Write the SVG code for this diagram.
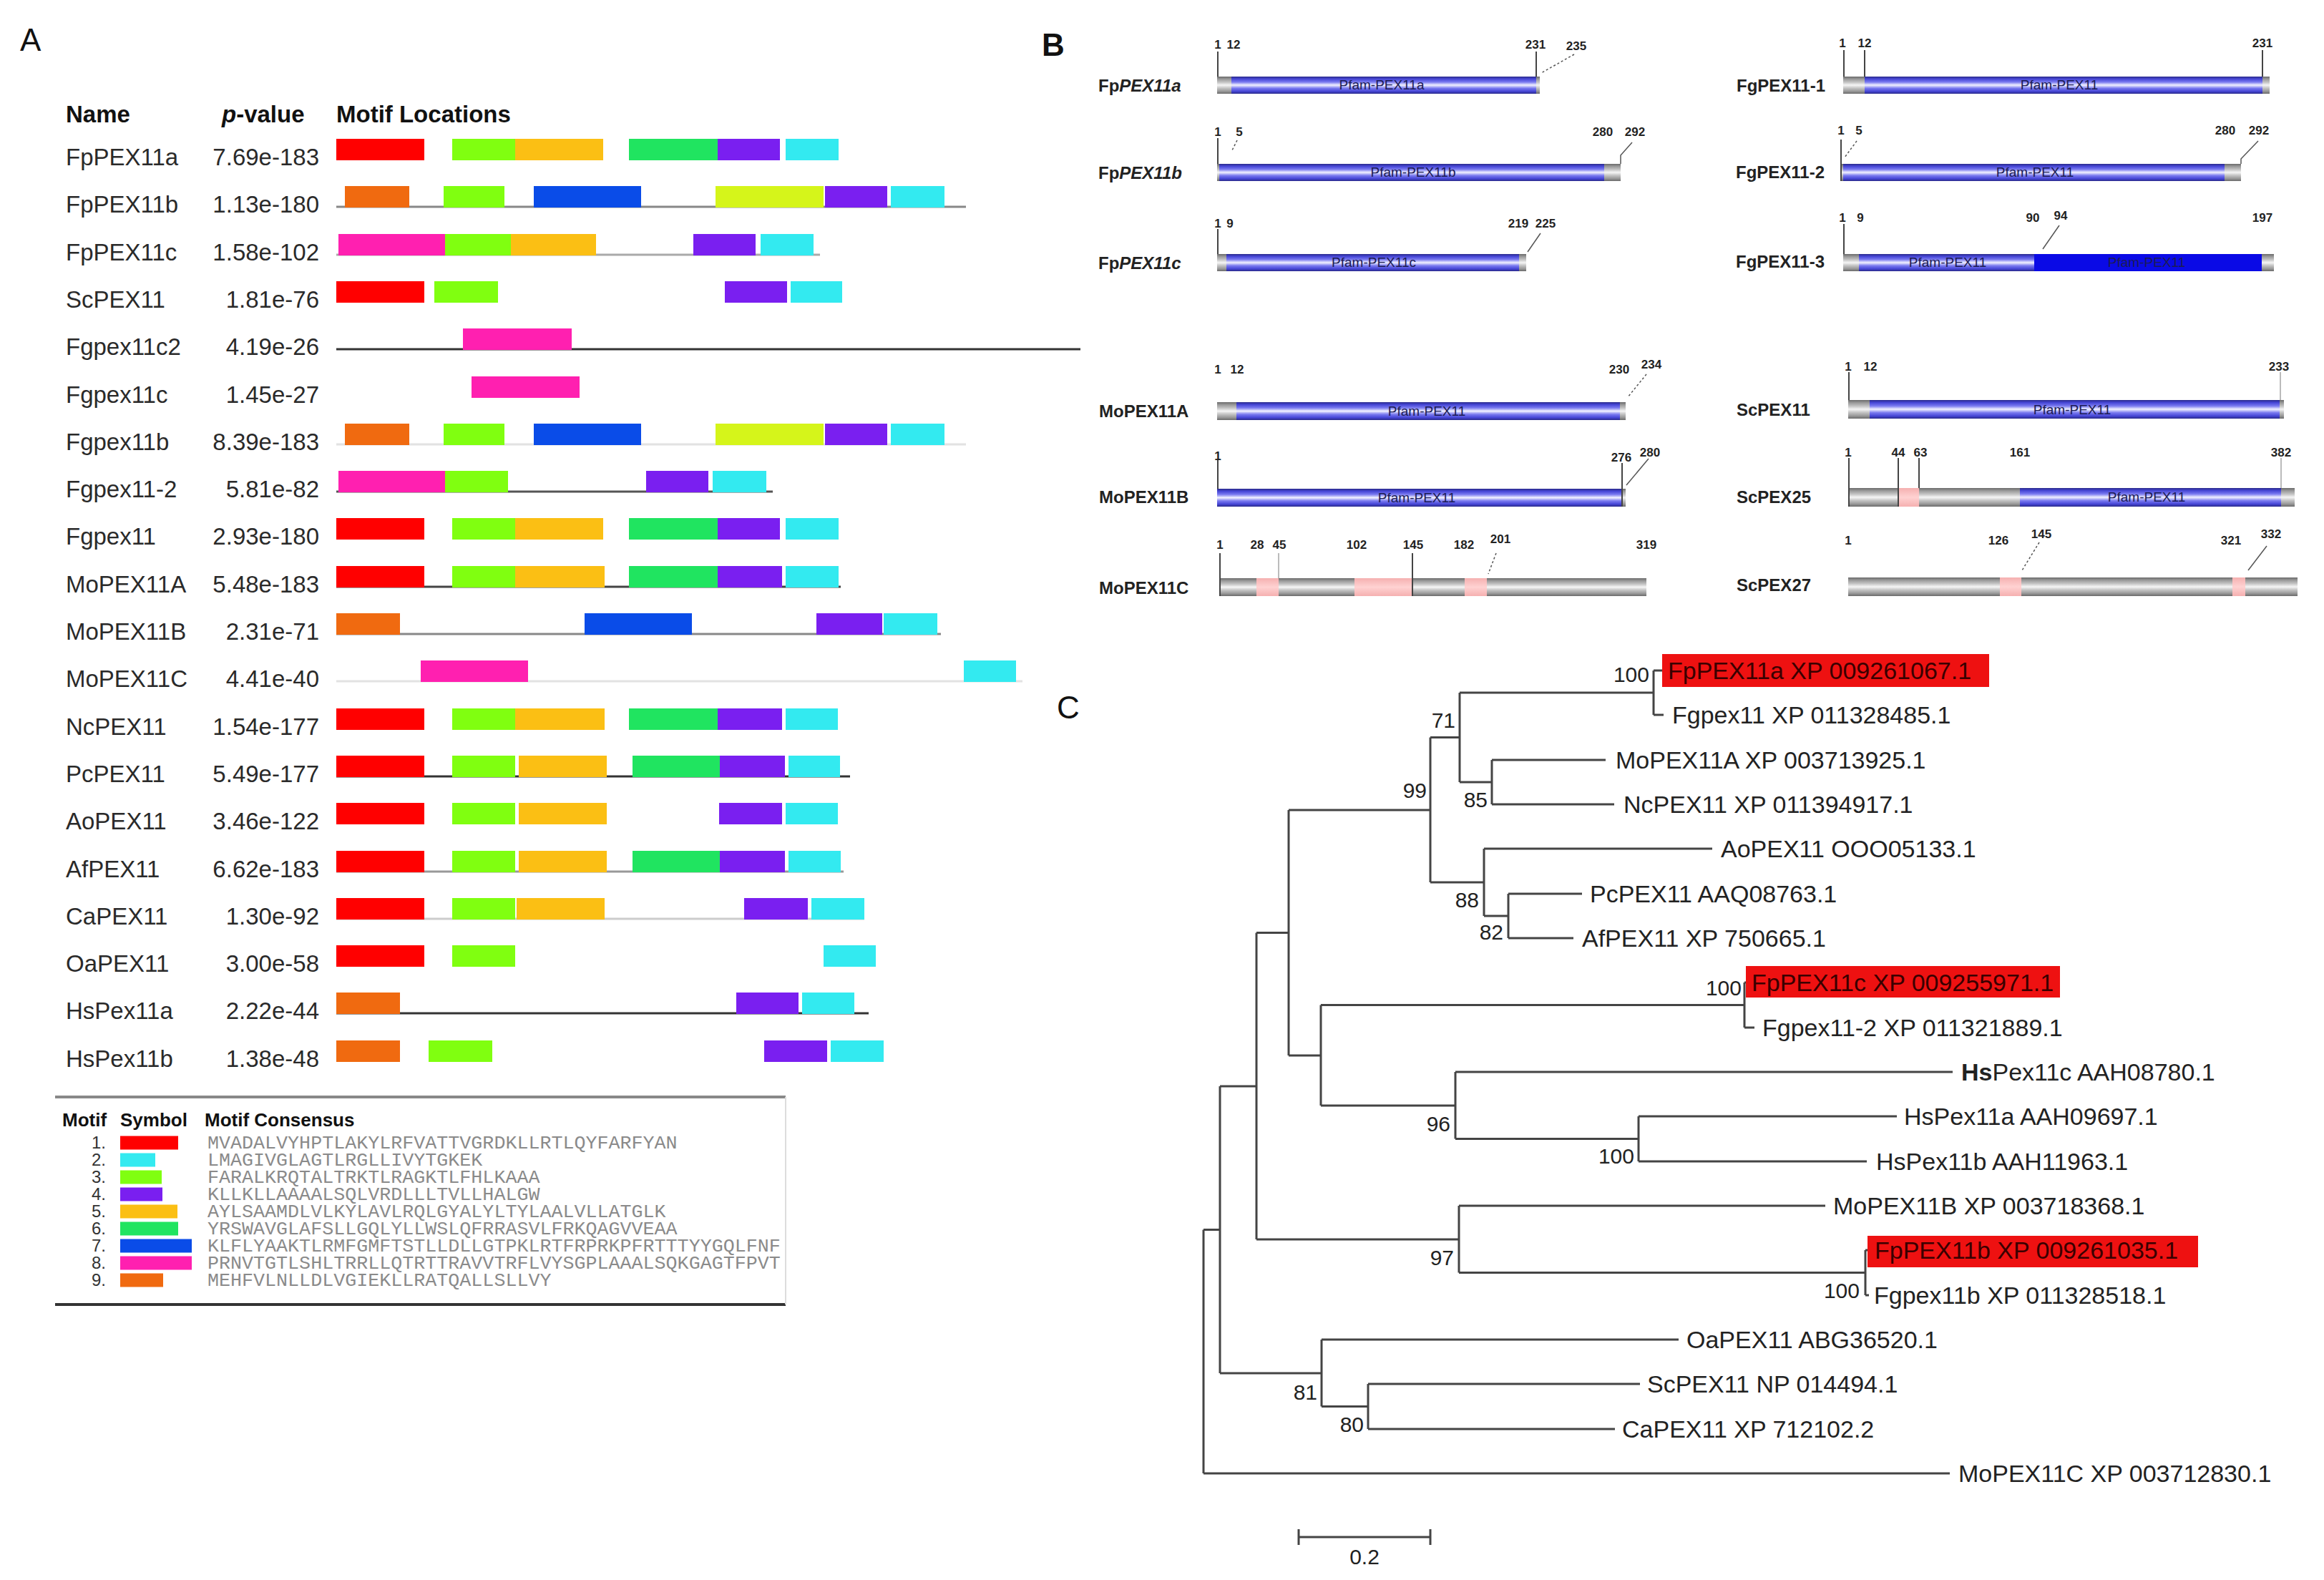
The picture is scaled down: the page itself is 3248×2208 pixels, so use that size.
<svg xmlns="http://www.w3.org/2000/svg" width="3248" height="2208" viewBox="0 0 3248 2208">
<defs>
<linearGradient id="gb" x1="0" y1="0" x2="0" y2="1">
<stop offset="0" stop-color="#2a2a8a"/><stop offset="0.14" stop-color="#4646d6"/><stop offset="0.32" stop-color="#7a7af0"/><stop offset="0.5" stop-color="#f2f2ff"/><stop offset="0.68" stop-color="#7a7af0"/><stop offset="0.86" stop-color="#4646d6"/><stop offset="1" stop-color="#2a2a8a"/>
</linearGradient>
<linearGradient id="gg" x1="0" y1="0" x2="0" y2="1">
<stop offset="0" stop-color="#6a6a6a"/><stop offset="0.15" stop-color="#9a9a9a"/><stop offset="0.33" stop-color="#c4c4c4"/><stop offset="0.5" stop-color="#f6f6f6"/><stop offset="0.67" stop-color="#c4c4c4"/><stop offset="0.85" stop-color="#9a9a9a"/><stop offset="1" stop-color="#6a6a6a"/>
</linearGradient>
<linearGradient id="gp" x1="0" y1="0" x2="0" y2="1">
<stop offset="0" stop-color="#f5b0b0"/><stop offset="0.5" stop-color="#ffd2d2"/><stop offset="1" stop-color="#f5b0b0"/>
</linearGradient>
</defs>
<style>
text{font-family:"Liberation Sans",Arial,sans-serif}
.pl{font-size:44px;fill:#111}
.nm{font-size:33px;fill:#2a2a2a}
.pv{font-size:33px;fill:#2a2a2a;text-anchor:end}
.hd{font-size:33px;font-weight:bold;fill:#111}
.m1{fill:#ff0000}.m2{fill:#33eaf0}.m3{fill:#80ff10}.m4{fill:#7a1ff0}.m5{fill:#fbbf14}.m6{fill:#20e460}.m7{fill:#0a4ce8}.m8{fill:#ff20b0}.m9{fill:#f06a10}.mY{fill:#d5f51a}
.bl{stroke-width:3}
.lg{font-size:26px;font-weight:bold;fill:#111}
.ln{font-size:24px;fill:#333;text-anchor:end}
.cs{font-family:"Liberation Mono","Courier New",monospace;font-size:26.7px;fill:#8a8a8a}
.bn{font-size:24px;font-weight:bold;fill:#222}
.bp{font-size:17px;font-weight:bold;fill:#222;text-anchor:middle}
.bi{font-size:19px;fill:#1c1c55;text-anchor:middle}
.tk{stroke:#444;stroke-width:2}
.tkl{stroke:#bbb;stroke-width:2}
.ld{stroke:#555;stroke-width:1.5;fill:none}
.dash{stroke-dasharray:3 3}
.tl{font-size:34px;fill:#222}
.th{font-size:34px;fill:#3a0000}
.bs{font-size:30px;fill:#222;text-anchor:end}
.tr{stroke:#444;stroke-width:3;fill:none}
.hl{fill:#ee1111}
</style>
<rect width="3248" height="2208" fill="#ffffff"/>

<!-- Panel A -->
<g id="panelA">
<text class="pl" x="28" y="71">A</text>
<text class="hd" x="92" y="171">Name</text>
<text class="hd" x="310" y="171"><tspan font-style="italic">p</tspan>-value</text>
<text class="hd" x="470" y="171">Motif Locations</text>

<g id="rowA0" transform="translate(0,194)">
<text class="nm" x="92" y="37">FpPEX11a</text><text class="pv" x="446" y="37">7.69e-183</text>
<rect class="m1" x="470" width="123" height="30"/><rect class="m3" x="632" width="88" height="30"/><rect class="m5" x="720" width="123" height="30"/><rect class="m6" x="879" width="124" height="30"/><rect class="m4" x="1003" width="87" height="30"/><rect class="m2" x="1098" width="74" height="30"/>
</g>
<g id="rowA1" transform="translate(0,260)">
<text class="nm" x="92" y="37">FpPEX11b</text><text class="pv" x="446" y="37">1.13e-180</text>
<line x1="470" x2="1350" y1="29" y2="29" stroke="#888" class="bl"/>
<rect class="m9" x="482" width="90" height="30"/><rect class="m3" x="620" width="85" height="30"/><rect class="m7" x="746" width="150" height="30"/><rect class="mY" x="1000" width="151" height="30"/><rect class="m4" x="1153" width="87" height="30"/><rect class="m2" x="1245" width="75" height="30"/>
</g>
<g id="rowA2" transform="translate(0,327)">
<text class="nm" x="92" y="37">FpPEX11c</text><text class="pv" x="446" y="37">1.58e-102</text>
<line x1="470" x2="1146" y1="29" y2="29" stroke="#aaa" class="bl"/>
<rect class="m8" x="473" width="149" height="30"/><rect class="m3" x="622" width="92" height="30"/><rect class="m5" x="714" width="119" height="30"/><rect class="m4" x="969" width="87" height="30"/><rect class="m2" x="1063" width="74" height="30"/>
</g>
<g id="rowA3" transform="translate(0,393)">
<text class="nm" x="92" y="37">ScPEX11</text><text class="pv" x="446" y="37">1.81e-76</text>
<rect class="m1" x="470" width="123" height="30"/><rect class="m3" x="607" width="89" height="30"/><rect class="m4" x="1013" width="87" height="30"/><rect class="m2" x="1105" width="72" height="30"/>
</g>
<g id="rowA4" transform="translate(0,459)">
<text class="nm" x="92" y="37">Fgpex11c2</text><text class="pv" x="446" y="37">4.19e-26</text>
<line x1="470" x2="1510" y1="29" y2="29" stroke="#333" class="bl"/>
<rect class="m8" x="647" width="152" height="30"/>
</g>
<g id="rowA5" transform="translate(0,526)">
<text class="nm" x="92" y="37">Fgpex11c</text><text class="pv" x="446" y="37">1.45e-27</text>
<rect class="m8" x="659" width="151" height="30"/>
</g>
<g id="rowA6" transform="translate(0,592)">
<text class="nm" x="92" y="37">Fgpex11b</text><text class="pv" x="446" y="37">8.39e-183</text>
<line x1="470" x2="1350" y1="29" y2="29" stroke="#e2e2e2" class="bl"/>
<rect class="m9" x="482" width="90" height="30"/><rect class="m3" x="620" width="85" height="30"/><rect class="m7" x="746" width="150" height="30"/><rect class="mY" x="1000" width="151" height="30"/><rect class="m4" x="1153" width="87" height="30"/><rect class="m2" x="1245" width="75" height="30"/>
</g>
<g id="rowA7" transform="translate(0,658)">
<text class="nm" x="92" y="37">Fgpex11-2</text><text class="pv" x="446" y="37">5.81e-82</text>
<line x1="470" x2="1080" y1="29" y2="29" stroke="#555" class="bl"/>
<rect class="m8" x="473" width="149" height="30"/><rect class="m3" x="622" width="88" height="30"/><rect class="m4" x="903" width="87" height="30"/><rect class="m2" x="996" width="75" height="30"/>
</g>
<g id="rowA8" transform="translate(0,724)">
<text class="nm" x="92" y="37">Fgpex11</text><text class="pv" x="446" y="37">2.93e-180</text>
<rect class="m1" x="470" width="123" height="30"/><rect class="m3" x="632" width="88" height="30"/><rect class="m5" x="720" width="123" height="30"/><rect class="m6" x="879" width="124" height="30"/><rect class="m4" x="1003" width="87" height="30"/><rect class="m2" x="1098" width="74" height="30"/>
</g>
<g id="rowA9" transform="translate(0,791)">
<text class="nm" x="92" y="37">MoPEX11A</text><text class="pv" x="446" y="37">5.48e-183</text>
<line x1="470" x2="1175" y1="29" y2="29" stroke="#444" class="bl"/>
<rect class="m1" x="470" width="123" height="30"/><rect class="m3" x="632" width="88" height="30"/><rect class="m5" x="720" width="125" height="30"/><rect class="m6" x="879" width="124" height="30"/><rect class="m4" x="1003" width="90" height="30"/><rect class="m2" x="1098" width="74" height="30"/>
</g>
<g id="rowA10" transform="translate(0,857)">
<text class="nm" x="92" y="37">MoPEX11B</text><text class="pv" x="446" y="37">2.31e-71</text>
<line x1="470" x2="1315" y1="29" y2="29" stroke="#888" class="bl"/>
<rect class="m9" x="470" width="89" height="30"/><rect class="m7" x="817" width="150" height="30"/><rect class="m4" x="1141" width="92" height="30"/><rect class="m2" x="1235" width="75" height="30"/>
</g>
<g id="rowA11" transform="translate(0,923)">
<text class="nm" x="92" y="37">MoPEX11C</text><text class="pv" x="446" y="37">4.41e-40</text>
<line x1="470" x2="1429" y1="29" y2="29" stroke="#e2e2e2" class="bl"/>
<rect class="m8" x="588" width="150" height="30"/><rect class="m2" x="1347" width="73" height="30"/>
</g>
<g id="rowA12" transform="translate(0,990)">
<text class="nm" x="92" y="37">NcPEX11</text><text class="pv" x="446" y="37">1.54e-177</text>
<rect class="m1" x="470" width="123" height="30"/><rect class="m3" x="632" width="88" height="30"/><rect class="m5" x="720" width="125" height="30"/><rect class="m6" x="879" width="124" height="30"/><rect class="m4" x="1003" width="90" height="30"/><rect class="m2" x="1098" width="73" height="30"/>
</g>
<g id="rowA13" transform="translate(0,1056)">
<text class="nm" x="92" y="37">PcPEX11</text><text class="pv" x="446" y="37">5.49e-177</text>
<line x1="470" x2="1188" y1="29" y2="29" stroke="#333" class="bl"/>
<rect class="m1" x="470" width="123" height="30"/><rect class="m3" x="632" width="88" height="30"/><rect class="m5" x="725" width="123" height="30"/><rect class="m6" x="884" width="122" height="30"/><rect class="m4" x="1006" width="91" height="30"/><rect class="m2" x="1102" width="72" height="30"/>
</g>
<g id="rowA14" transform="translate(0,1122)">
<text class="nm" x="92" y="37">AoPEX11</text><text class="pv" x="446" y="37">3.46e-122</text>
<rect class="m1" x="470" width="123" height="30"/><rect class="m3" x="632" width="88" height="30"/><rect class="m5" x="725" width="123" height="30"/><rect class="m4" x="1005" width="88" height="30"/><rect class="m2" x="1098" width="73" height="30"/>
</g>
<g id="rowA15" transform="translate(0,1189)">
<text class="nm" x="92" y="37">AfPEX11</text><text class="pv" x="446" y="37">6.62e-183</text>
<line x1="470" x2="1179" y1="29" y2="29" stroke="#999" class="bl"/>
<rect class="m1" x="470" width="123" height="30"/><rect class="m3" x="632" width="88" height="30"/><rect class="m5" x="725" width="123" height="30"/><rect class="m6" x="884" width="122" height="30"/><rect class="m4" x="1006" width="91" height="30"/><rect class="m2" x="1102" width="73" height="30"/>
</g>
<g id="rowA16" transform="translate(0,1255)">
<text class="nm" x="92" y="37">CaPEX11</text><text class="pv" x="446" y="37">1.30e-92</text>
<line x1="470" x2="1208" y1="29" y2="29" stroke="#ccc" class="bl"/>
<rect class="m1" x="470" width="123" height="30"/><rect class="m3" x="632" width="88" height="30"/><rect class="m5" x="722" width="123" height="30"/><rect class="m4" x="1040" width="89" height="30"/><rect class="m2" x="1134" width="74" height="30"/>
</g>
<g id="rowA17" transform="translate(0,1321)">
<text class="nm" x="92" y="37">OaPEX11</text><text class="pv" x="446" y="37">3.00e-58</text>
<rect class="m1" x="470" width="123" height="30"/><rect class="m3" x="632" width="88" height="30"/><rect class="m2" x="1151" width="73" height="30"/>
</g>
<g id="rowA18" transform="translate(0,1387)">
<text class="nm" x="92" y="37">HsPex11a</text><text class="pv" x="446" y="37">2.22e-44</text>
<line x1="470" x2="1214" y1="29" y2="29" stroke="#333" class="bl"/>
<rect class="m9" x="470" width="89" height="30"/><rect class="m4" x="1029" width="87" height="30"/><rect class="m2" x="1121" width="73" height="30"/>
</g>
<g id="rowA19" transform="translate(0,1454)">
<text class="nm" x="92" y="37">HsPex11b</text><text class="pv" x="446" y="37">1.38e-48</text>
<rect class="m9" x="470" width="89" height="30"/><rect class="m3" x="599" width="89" height="30"/><rect class="m4" x="1068" width="88" height="30"/><rect class="m2" x="1161" width="74" height="30"/>
</g>

<g id="legendA">
<line x1="77" x2="1098" y1="1533" y2="1533" stroke="#888" stroke-width="4"/>
<line x1="77" x2="1098" y1="1823" y2="1823" stroke="#333" stroke-width="4"/>
<line x1="1098" x2="1098" y1="1533" y2="1823" stroke="#ddd" stroke-width="2"/>
<text class="lg" x="87" y="1574">Motif</text>
<text class="lg" x="168" y="1574">Symbol</text>
<text class="lg" x="286" y="1574">Motif Consensus</text>
<text class="ln" x="148" y="1605">1.</text><rect class="m1" x="168" y="1587.5" width="81" height="19"/><text class="cs" x="290" y="1605">MVADALVYHPTLAKYLRFVATTVGRDKLLRTLQYFARFYAN</text>
<text class="ln" x="148" y="1629">2.</text><rect class="m2" x="168" y="1611.5" width="49" height="19"/><text class="cs" x="290" y="1629">LMAGIVGLAGTLRGLLIVYTGKEK</text>
<text class="ln" x="148" y="1653">3.</text><rect class="m3" x="168" y="1635.5" width="58" height="19"/><text class="cs" x="290" y="1653">FARALKRQTALTRKTLRAGKTLFHLKAAA</text>
<text class="ln" x="148" y="1677">4.</text><rect class="m4" x="168" y="1659.5" width="59" height="19"/><text class="cs" x="290" y="1677">KLLKLLAAAALSQLVRDLLLTVLLHALGW</text>
<text class="ln" x="148" y="1701">5.</text><rect class="m5" x="168" y="1683.5" width="80" height="19"/><text class="cs" x="290" y="1701">AYLSAAMDLVLKYLAVLRQLGYALYLTYLAALVLLATGLK</text>
<text class="ln" x="148" y="1725">6.</text><rect class="m6" x="168" y="1707.5" width="81" height="19"/><text class="cs" x="290" y="1725">YRSWAVGLAFSLLGQLYLLWSLQFRRASVLFRKQAGVVEAA</text>
<text class="ln" x="148" y="1749">7.</text><rect class="m7" x="168" y="1731.5" width="100" height="19"/><text class="cs" x="290" y="1749">KLFLYAAKTLRMFGMFTSTLLDLLGTPKLRTFRPRKPFRTTTYYGQLFNF</text>
<text class="ln" x="148" y="1773">8.</text><rect class="m8" x="168" y="1755.5" width="100" height="19"/><text class="cs" x="290" y="1773">PRNVTGTLSHLTRRLLQTRTTRAVVTRFLVYSGPLAAALSQKGAGTFPVT</text>
<text class="ln" x="148" y="1797">9.</text><rect class="m9" x="168" y="1779.5" width="60" height="19"/><text class="cs" x="290" y="1797">MEHFVLNLLDLVGIEKLLRATQALLSLLVY</text>
</g>
</g>

<!-- Panel B -->
<g id="panelB">
<text class="pl" x="1456" y="78" font-weight="bold">B</text>

<g id="FpPEX11a-dom">
<text class="bn" x="1535" y="128">Fp<tspan font-style="italic">PEX11a</tspan></text>
<rect x="1701" y="107" width="20" height="24" fill="url(#gg)"/><rect x="1721" y="107" width="426" height="24" fill="url(#gb)"/><rect x="2147" y="107" width="5" height="24" fill="url(#gg)"/>
<line class="tk" x1="1702" y1="72" x2="1702" y2="107"/><line class="tk" x1="2147" y1="72" x2="2147" y2="107"/>
<text class="bp" x="1702" y="68">1</text><text class="bp" x="1724" y="68">12</text><text class="bp" x="2146" y="68">231</text><text class="bp" x="2203" y="70" fill="#666">235</text>
<line class="ld dash" x1="2200" y1="76" x2="2154" y2="102"/>
<text class="bi" x="1931" y="125">Pfam-PEX11a</text>
</g>
<g id="FpPEX11b-dom">
<text class="bn" x="1535" y="250">Fp<tspan font-style="italic">PEX11b</tspan></text>
<rect x="1701" y="229" width="3" height="24" fill="url(#gg)"/><rect x="1704" y="229" width="538" height="24" fill="url(#gb)"/><rect x="2242" y="229" width="23" height="24" fill="url(#gg)"/>
<line class="tk" x1="1702" y1="193" x2="1702" y2="229"/>
<text class="bp" x="1702" y="190">1</text><text class="bp" x="1732" y="190">5</text><text class="bp" x="2240" y="190">280</text><text class="bp" x="2285" y="190">292</text>
<line class="ld dash" x1="1729" y1="196" x2="1722" y2="210"/>
<polyline class="ld" points="2281,199 2265,217 2265,229"/>
<text class="bi" x="1975" y="247">Pfam-PEX11b</text>
</g>
<g id="FpPEX11c-dom">
<text class="bn" x="1535" y="376">Fp<tspan font-style="italic">PEX11c</tspan></text>
<rect x="1701" y="355" width="13" height="24" fill="url(#gg)"/><rect x="1714" y="355" width="409" height="24" fill="url(#gb)"/><rect x="2123" y="355" width="10" height="24" fill="url(#gg)"/>
<line class="tk" x1="1702" y1="320" x2="1702" y2="355"/>
<text class="bp" x="1702" y="318">1</text><text class="bp" x="1719" y="318">9</text><text class="bp" x="2122" y="318">219</text><text class="bp" x="2160" y="318">225</text>
<line class="ld" x1="2153" y1="326" x2="2135" y2="352"/>
<text class="bi" x="1920" y="373">Pfam-PEX11c</text>
</g>
<g id="MoPEX11A-dom">
<text class="bn" x="1536" y="583">MoPEX11A</text>
<rect x="1701" y="562" width="27" height="25" fill="url(#gg)"/><rect x="1728" y="562" width="536" height="25" fill="url(#gb)"/><rect x="2264" y="562" width="8" height="25" fill="url(#gg)"/>
<text class="bp" x="1702" y="522">1</text><text class="bp" x="1729" y="522">12</text><text class="bp" x="2263" y="522">230</text><text class="bp" x="2308" y="515">234</text>
<line class="ld dash" x1="2301" y1="523" x2="2275" y2="555"/>
<text class="bi" x="1994" y="581">Pfam-PEX11</text>
</g>
<g id="MoPEX11B-dom">
<text class="bn" x="1536" y="703">MoPEX11B</text>
<rect x="1701" y="683" width="566" height="25" fill="url(#gb)"/><rect x="2267" y="683" width="5" height="25" fill="url(#gg)"/>
<line class="tk" x1="1702" y1="642" x2="1702" y2="683"/><line class="tk" x1="2267" y1="647" x2="2267" y2="708"/>
<text class="bp" x="1702" y="643">1</text><text class="bp" x="2266" y="645">276</text><text class="bp" x="2306" y="638">280</text>
<line class="ld" x1="2304" y1="641" x2="2273" y2="678"/>
<text class="bi" x="1980" y="702">Pfam-PEX11</text>
</g>
<g id="MoPEX11C-dom">
<text class="bn" x="1536" y="830">MoPEX11C</text>
<rect x="1704" y="808" width="597" height="25" fill="url(#gg)"/>
<rect x="1756" y="808" width="31" height="25" fill="url(#gp)"/><rect x="1893" y="808" width="81" height="25" fill="url(#gp)"/><rect x="2047" y="808" width="31" height="25" fill="url(#gp)"/>
<line class="tk" x1="1705" y1="773" x2="1705" y2="833"/><line class="tkl" x1="1787" y1="773" x2="1787" y2="808"/><line class="tk" x1="1974" y1="773" x2="1974" y2="833"/>
<text class="bp" x="1705" y="767">1</text><text class="bp" x="1757" y="767">28</text><text class="bp" x="1788" y="767">45</text><text class="bp" x="1896" y="767">102</text><text class="bp" x="1975" y="767">145</text><text class="bp" x="2046" y="767">182</text><text class="bp" x="2097" y="759">201</text><text class="bp" x="2301" y="767">319</text>
<line class="ld dash" x1="2091" y1="773" x2="2080" y2="802"/>
</g>

<g id="FgPEX11-1-dom">
<text class="bn" x="2427" y="128">FgPEX11-1</text>
<rect x="2576" y="107" width="30" height="24" fill="url(#gg)"/><rect x="2606" y="107" width="556" height="24" fill="url(#gb)"/><rect x="3162" y="107" width="10" height="24" fill="url(#gg)"/>
<line class="tk" x1="2577" y1="70" x2="2577" y2="107"/><line class="tk" x1="2606" y1="70" x2="2606" y2="107"/><line class="tk" x1="3162" y1="70" x2="3162" y2="107"/>
<text class="bp" x="2575" y="66">1</text><text class="bp" x="2606" y="66">12</text><text class="bp" x="3162" y="66">231</text>
<text class="bi" x="2878" y="125">Pfam-PEX11</text>
</g>
<g id="FgPEX11-2-dom">
<text class="bn" x="2426" y="249">FgPEX11-2</text>
<rect x="2572" y="229" width="4" height="24" fill="url(#gg)"/><rect x="2576" y="229" width="533" height="24" fill="url(#gb)"/><rect x="3109" y="229" width="23" height="24" fill="url(#gg)"/>
<line class="tk" x1="2573" y1="195" x2="2573" y2="253"/>
<text class="bp" x="2573" y="188">1</text><text class="bp" x="2598" y="188">5</text><text class="bp" x="3110" y="188">280</text><text class="bp" x="3157" y="188">292</text>
<line class="ld dash" x1="2595" y1="197" x2="2578" y2="220"/>
<polyline class="ld" points="3156,197 3132,222 3132,229"/>
<text class="bi" x="2844" y="247">Pfam-PEX11</text>
</g>
<g id="FgPEX11-3-dom">
<text class="bn" x="2426" y="374">FgPEX11-3</text>
<rect x="2576" y="355" width="22" height="24" fill="url(#gg)"/><rect x="2598" y="355" width="245" height="24" fill="url(#gb)"/><rect x="2843" y="355" width="318" height="24" fill="#0a0ae6"/><rect x="3161" y="355" width="17" height="24" fill="url(#gg)"/>
<line class="tk" x1="2577" y1="313" x2="2577" y2="355"/>
<text class="bp" x="2575" y="310">1</text><text class="bp" x="2600" y="310">9</text><text class="bp" x="2841" y="310">90</text><text class="bp" x="2880" y="307">94</text><text class="bp" x="3162" y="310">197</text>
<line class="ld" x1="2878" y1="315" x2="2855" y2="348"/>
<text class="bi" x="2722" y="373">Pfam-PEX11</text><text class="bi" x="3000" y="373" fill="#000090">Pfam-PEX11</text>
</g>
<g id="ScPEX11-dom">
<text class="bn" x="2427" y="581">ScPEX11</text>
<rect x="2583" y="559" width="30" height="26" fill="url(#gg)"/><rect x="2613" y="559" width="573" height="26" fill="url(#gb)"/><rect x="3186" y="559" width="6" height="26" fill="url(#gg)"/>
<line class="tk" x1="2584" y1="520" x2="2584" y2="559"/><line class="tkl" x1="3187" y1="520" x2="3187" y2="559"/>
<text class="bp" x="2583" y="518">1</text><text class="bp" x="2614" y="518">12</text><text class="bp" x="3185" y="518">233</text>
<text class="bi" x="2896" y="579">Pfam-PEX11</text>
</g>
<g id="ScPEX25-dom">
<text class="bn" x="2427" y="703">ScPEX25</text>
<rect x="2583" y="682" width="240" height="26" fill="url(#gg)"/><rect x="2654" y="682" width="28" height="26" fill="url(#gp)"/><rect x="2823" y="682" width="365" height="26" fill="url(#gb)"/><rect x="3188" y="682" width="19" height="26" fill="url(#gg)"/>
<line class="tk" x1="2584" y1="640" x2="2584" y2="708"/><line class="tk" x1="2653" y1="640" x2="2653" y2="708"/><line class="tk" x1="2682" y1="640" x2="2682" y2="682" stroke-width="1.5"/><line class="tkl" x1="3188" y1="640" x2="3188" y2="682"/>
<text class="bp" x="2583" y="638">1</text><text class="bp" x="2653" y="638">44</text><text class="bp" x="2684" y="638">63</text><text class="bp" x="2823" y="638">161</text><text class="bp" x="3188" y="638">382</text>
<text class="bi" x="3000" y="701">Pfam-PEX11</text>
</g>
<g id="ScPEX27-dom">
<text class="bn" x="2427" y="826">ScPEX27</text>
<rect x="2583" y="807" width="628" height="26" fill="url(#gg)"/><rect x="2795" y="807" width="30" height="26" fill="url(#gp)"/><rect x="3120" y="807" width="18" height="26" fill="url(#gp)"/>
<text class="bp" x="2583" y="761">1</text><text class="bp" x="2793" y="761">126</text><text class="bp" x="2853" y="752">145</text><text class="bp" x="3118" y="761">321</text><text class="bp" x="3174" y="752">332</text>
<line class="ld dash" x1="2850" y1="758" x2="2826" y2="797"/>
<line class="ld" x1="3168" y1="763" x2="3142" y2="797"/>
</g>
</g>

<!-- Panel C -->
<g id="panelC">
<text class="pl" x="1477" y="1004">C</text>

<g id="tree-connectors">
<path class="tr" d="M2311 937H2323M2311 999H2325M2085 1062H2244M2085 1124H2256M2074 1186H2393M2108 1249H2211M2108 1311H2199M2438 1373H2441M2438 1436H2452M2034 1498H2729M2290 1560H2651M2290 1623H2609M2039 1685H2551M2607 1747H2612M2607 1810H2612M1847 1872H2346M1912 1934H2292M1912 1997H2257M1682 2059H2725"/>
<path class="tr" d="M2040 968H2311M2040 1093H2085M1999 1030.5H2040M2074 1280H2108M1999 1233H2074M1801 1132H1999M1846 1404.5H2438M2034 1591.5H2290M1846 1545H2034M1801 1475H1846M1756 1303.5H1801M2039 1778.5H2607M1756 1732H2039M1705 1518H1756M1847 1965.5H1912M1705 1919H1847M1682 1718.5H1705"/>
<path class="tr" d="M2311 937V999M2085 1062V1124M2040 968V1093M2108 1249V1311M2074 1186V1280M1999 1030.5V1233M2438 1373V1436M2290 1560V1623M2034 1498V1591.5M1846 1404.5V1545M1801 1132V1475M2607 1747V1810M2039 1685V1778.5M1756 1303.5V1732M1912 1934V1997M1847 1872V1965.5M1705 1518V1919M1682 1718.5V2059"/>
</g>

<g id="boot">
<text class="bs" x="2305" y="953">100</text>
<text class="bs" x="2034" y="1017">71</text>
<text class="bs" x="2079" y="1128">85</text>
<text class="bs" x="1994" y="1115">99</text>
<text class="bs" x="2067" y="1268">88</text>
<text class="bs" x="2101" y="1313">82</text>
<text class="bs" x="2434" y="1391">100</text>
<text class="bs" x="2027" y="1581">96</text>
<text class="bs" x="2284" y="1626">100</text>
<text class="bs" x="2032" y="1768">97</text>
<text class="bs" x="2599" y="1814">100</text>
<text class="bs" x="1841" y="1956">81</text>
<text class="bs" x="1906" y="2001">80</text>
</g>

<g id="tip-FpPEX11a"><rect class="hl" x="2323" y="914" width="457" height="46"/><text class="th" x="2331" y="949">FpPEX11a XP 009261067.1</text></g>
<g id="tip-Fgpex11"><text class="tl" x="2337" y="1011">Fgpex11 XP 011328485.1</text></g>
<g id="tip-MoPEX11A"><text class="tl" x="2258" y="1074">MoPEX11A XP 003713925.1</text></g>
<g id="tip-NcPEX11"><text class="tl" x="2269" y="1136">NcPEX11 XP 011394917.1</text></g>
<g id="tip-AoPEX11"><text class="tl" x="2405" y="1198">AoPEX11 OOO05133.1</text></g>
<g id="tip-PcPEX11"><text class="tl" x="2222" y="1261">PcPEX11 AAQ08763.1</text></g>
<g id="tip-AfPEX11"><text class="tl" x="2211" y="1323">AfPEX11 XP 750665.1</text></g>
<g id="tip-FpPEX11c"><rect class="hl" x="2440" y="1350" width="439" height="44"/><text class="th" x="2448" y="1385">FpPEX11c XP 009255971.1</text></g>
<g id="tip-Fgpex11-2"><text class="tl" x="2463" y="1448">Fgpex11-2 XP 011321889.1</text></g>
<g id="tip-HsPex11c"><text class="tl" x="2741" y="1510"><tspan font-weight="bold">Hs</tspan>Pex11c AAH08780.1</text></g>
<g id="tip-HsPex11a"><text class="tl" x="2661" y="1572">HsPex11a AAH09697.1</text></g>
<g id="tip-HsPex11b"><text class="tl" x="2622" y="1635">HsPex11b AAH11963.1</text></g>
<g id="tip-MoPEX11B"><text class="tl" x="2562" y="1697">MoPEX11B XP 003718368.1</text></g>
<g id="tip-FpPEX11b"><rect class="hl" x="2610" y="1727" width="462" height="44"/><text class="th" x="2620" y="1759">FpPEX11b XP 009261035.1</text></g>
<g id="tip-Fgpex11b"><text class="tl" x="2619" y="1822">Fgpex11b XP 011328518.1</text></g>
<g id="tip-OaPEX11"><text class="tl" x="2357" y="1884">OaPEX11 ABG36520.1</text></g>
<g id="tip-ScPEX11"><text class="tl" x="2302" y="1946">ScPEX11 NP 014494.1</text></g>
<g id="tip-CaPEX11"><text class="tl" x="2267" y="2009">CaPEX11 XP 712102.2</text></g>
<g id="tip-MoPEX11C"><text class="tl" x="2737" y="2071">MoPEX11C XP 003712830.1</text></g>

<g id="scalebar">
<path class="tr" d="M1815 2148H1999M1815 2137V2159M1999 2137V2159"/>
<text x="1907" y="2186" font-size="30" fill="#222" text-anchor="middle">0.2</text>
</g>
</g>
</svg>
